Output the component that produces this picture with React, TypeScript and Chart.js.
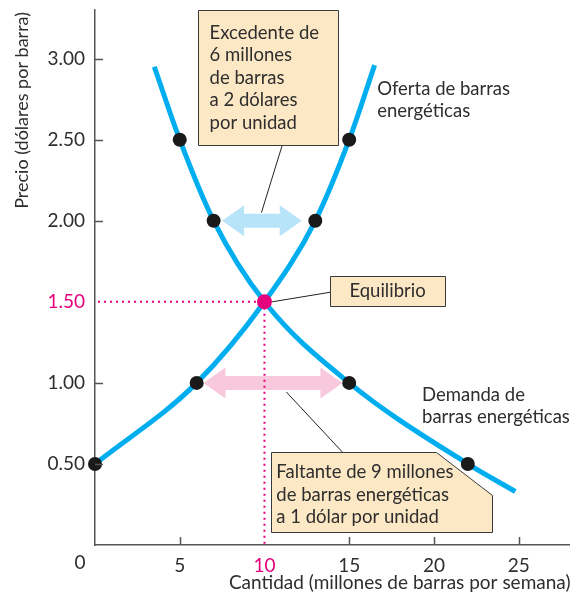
import React, { useEffect, useRef } from "react";
import { Chart, registerables } from "chart.js";

Chart.register(...registerables);

// ---- data ----
const supplyQty = [0, 6, 10, 13, 15, 16.5];
const supplyPrice = [0.5, 1.0, 1.5, 2.0, 2.5, 2.96];
const supplyMarked = [true, true, false, true, true, false];

const demandQty = [3.5, 5, 7, 10, 15, 22, 24.8];
const demandPrice = [2.95, 2.5, 2.0, 1.5, 1.0, 0.5, 0.33];
const demandMarked = [false, true, true, false, true, true, false];

const equilibriumQty = 10;
const equilibriumPrice = 1.5;

const arrowPrices = [2.0, 1.0];
const arrowFromQty = [7.5, 6.4];
const arrowToQty = [12.2, 14.6];

const xTickValues = [5, 10, 15, 20, 25];
const yTickValues = [0.5, 1.0, 1.5, 2.0, 2.5, 3.0];
const yTickLabels = ["0.50", "1.00", "1.50", "2.00", "2.50", "3.00"];

const surplusText = ["Excedente de", "6 millones", "de barras", "a 2 dólares", "por unidad"];
const shortageText = ["Faltante de 9 millones", "de barras energéticas", "a 1 dólar por unidad"];
const equilibriumText = "Equilibrio";
const supplyLabel = ["Oferta de barras", "energéticas"];
const demandLabel = ["Demanda de", "barras energéticas"];
const xTitle = "Cantidad (millones de barras por semana)";
const yTitle = "Precio (dólares por barra)";

// ---- styles ----
const FONT = "Lato";
const TEXT = "#2e2e2e";
const PINK = "#e6007e";
const CURVE = "#00aeef";
const AXIS = "#555555";
const BOX_FILL = "#fde8c5";
const BOX_STROKE = "#3a3a3a";

function drawArrow(ctx: CanvasRenderingContext2D, x1: number, x2: number, y: number, shaft: number, head: number, headLen: number, color: string) {
  ctx.save();
  ctx.fillStyle = color;
  ctx.beginPath();
  ctx.moveTo(x1, y);
  ctx.lineTo(x1 + headLen, y - head / 2);
  ctx.lineTo(x1 + headLen, y - shaft / 2);
  ctx.lineTo(x2 - headLen, y - shaft / 2);
  ctx.lineTo(x2 - headLen, y - head / 2);
  ctx.lineTo(x2, y);
  ctx.lineTo(x2 - headLen, y + head / 2);
  ctx.lineTo(x2 - headLen, y + shaft / 2);
  ctx.lineTo(x1 + headLen, y + shaft / 2);
  ctx.lineTo(x1 + headLen, y + head / 2);
  ctx.closePath();
  ctx.fill();
  ctx.restore();
}

const overlayPlugin = {
  id: "overlay",
  beforeDatasetsDraw(chart: any) {
    const { ctx, scales } = chart;
    const xs = scales.x, ys = scales.y;
    const arrowColors = ["#b8e4f9", "#f8c9dc"];
    arrowPrices.forEach((p, i) => {
      drawArrow(ctx, xs.getPixelForValue(arrowFromQty[i]), xs.getPixelForValue(arrowToQty[i]), ys.getPixelForValue(p), 14, 31, 22, arrowColors[i]);
    });
    // dotted equilibrium guides
    const ex = xs.getPixelForValue(equilibriumQty);
    const ey = ys.getPixelForValue(equilibriumPrice);
    ctx.save();
    ctx.strokeStyle = PINK;
    ctx.lineWidth = 2;
    ctx.setLineDash([2, 4]);
    ctx.beginPath();
    ctx.moveTo(xs.getPixelForValue(0) + 3, ey);
    ctx.lineTo(ex, ey);
    ctx.moveTo(ex, ey);
    ctx.lineTo(ex, ys.getPixelForValue(0));
    ctx.stroke();
    ctx.restore();
  },
  afterDatasetsDraw(chart: any) {
    const { ctx, scales } = chart;
    const xs = scales.x, ys = scales.y;
    const X = (v: number) => xs.getPixelForValue(v);
    const Y = (v: number) => ys.getPixelForValue(v);
    ctx.save();
    // leader lines
    ctx.strokeStyle = "#222";
    ctx.lineWidth = 1;
    const leader = (a: number[], b: number[]) => {
      ctx.beginPath();
      ctx.moveTo(X(a[0]), Y(a[1]));
      ctx.lineTo(X(b[0]), Y(b[1]));
      ctx.stroke();
    };
    leader([11.06, 2.47], [9.82, 2.05]);
    leader([13.94, 1.56], [10.45, 1.5]);
    leader([14.59, 0.574], [11.29, 0.944]);

    // boxes
    ctx.fillStyle = BOX_FILL;
    ctx.strokeStyle = BOX_STROKE;
    ctx.lineWidth = 1;
    const box = (pts: number[][]) => {
      ctx.beginPath();
      pts.forEach((p, i) => (i ? ctx.lineTo(Math.round(X(p[0])) + 0.5, Math.round(Y(p[1])) + 0.5) : ctx.moveTo(Math.round(X(p[0])) + 0.5, Math.round(Y(p[1])) + 0.5)));
      ctx.closePath();
      ctx.fill();
      ctx.stroke();
    };
    box([[6.06, 3.3], [14.35, 3.3], [14.35, 2.47], [6.06, 2.47]]);
    box([[13.88, 1.66], [20.65, 1.66], [20.65, 1.475], [13.88, 1.475]]);
    box([[10.41, 0.574], [20.12, 0.574], [23.41, 0.309], [23.41, 0.08], [10.41, 0.08]]);

    ctx.fillStyle = TEXT;
    ctx.font = `18.5px ${FONT}`;
    ctx.textBaseline = "middle";
    ctx.textAlign = "left";
    const lines = (arr: string[], x: number, y: number, lh: number) => {
      arr.forEach((t, i) => ctx.fillText(t, X(x), Y(y) + i * lh));
    };
    lines(surplusText, 6.76, 3.16, 22.5);
    lines(shortageText, 10.7, 0.45, 22.5);
    ctx.textAlign = "center";
    ctx.fillText(equilibriumText, (X(13.88) + X(20.65)) / 2, (Y(1.66) + Y(1.475)) / 2);
    ctx.textAlign = "left";
    lines(supplyLabel, 16.65, 2.815, 22.5);
    lines(demandLabel, 19.3, 0.926, 22.5);
    ctx.restore();
  },
  afterDraw(chart: any) {
    const { ctx, scales } = chart;
    const xs = scales.x, ys = scales.y;
    const x0 = xs.getPixelForValue(0), y0 = ys.getPixelForValue(0);
    ctx.save();
    ctx.strokeStyle = AXIS;
    ctx.lineWidth = 1.5;
    ctx.beginPath();
    yTickValues.forEach((v) => {
      if (v === equilibriumPrice) return;
      const y = Math.round(ys.getPixelForValue(v)) + 0.5;
      ctx.moveTo(x0, y);
      ctx.lineTo(x0 + 8, y);
    });
    xTickValues.forEach((v) => {
      if (v === equilibriumQty) return;
      const x = Math.round(xs.getPixelForValue(v)) + 0.5;
      ctx.moveTo(x, y0);
      ctx.lineTo(x, y0 - 8);
    });
    ctx.stroke();
    ctx.fillStyle = TEXT;
    ctx.font = `19px ${FONT}`;
    ctx.textAlign = "center";
    ctx.textBaseline = "middle";
    ctx.fillText("0", x0 - 15, y0 + 18);
    // titles
    ctx.font = `19px ${FONT}`;
    ctx.textAlign = "right";
    ctx.fillText(xTitle, xs.right + 1, y0 + 38);
    ctx.font = `18px ${FONT}`;
    ctx.translate(22, ys.top + 2);
    ctx.rotate(-Math.PI / 2);
    ctx.fillText(yTitle, 0, 0);
    ctx.restore();
  },
};

export default function App() {
  const ref = useRef<HTMLCanvasElement>(null);
  useEffect(() => {
    if (!ref.current) return;
    const chart = new Chart(ref.current, {
      type: "line",
      data: {
        datasets: [
          {
            data: [{ x: equilibriumQty, y: equilibriumPrice }],
            showLine: false,
            pointRadius: 7.5,
            pointBackgroundColor: PINK,
            pointBorderWidth: 0,
            clip: false,
          } as any,
          {
            data: supplyQty.map((q, i) => ({ x: q, y: supplyPrice[i] })),
            borderColor: CURVE,
            borderWidth: 5,
            cubicInterpolationMode: "monotone",
            pointRadius: supplyMarked.map((m) => (m ? 7 : 0)),
            pointBackgroundColor: "#1a1a1a",
            pointBorderWidth: 0,
            clip: false,
          } as any,
          {
            data: demandQty.map((q, i) => ({ x: q, y: demandPrice[i] })),
            borderColor: CURVE,
            borderWidth: 5,
            cubicInterpolationMode: "monotone",
            pointRadius: demandMarked.map((m) => (m ? 7 : 0)),
            pointBackgroundColor: "#1a1a1a",
            pointBorderWidth: 0,
            clip: false,
          } as any,
        ],
      },
      options: {
        animation: false,
        responsive: true,
        maintainAspectRatio: false,
        layout: { padding: { top: 10, right: 6, left: 0, bottom: 0 } },
        plugins: { legend: { display: false }, tooltip: { enabled: false } },
        scales: {
          x: {
            type: "linear",
            min: 0,
            max: 28,
            grid: { display: false, drawTicks: false },
            border: { display: true, color: AXIS, width: 1.5 },
            afterBuildTicks: (s: any) => {
              s.ticks = xTickValues.map((v) => ({ value: v }));
            },
            afterFit: (s: any) => {
              s.height = 52;
              s.paddingLeft = 0;
              s.paddingRight = 0;
            },
            ticks: {
              padding: 9,
              font: { family: FONT, size: 19 },
              color: (c: any) => (c.tick && c.tick.value === equilibriumQty ? PINK : TEXT),
              callback: (v: any) => String(v),
            },
          },
          y: {
            type: "linear",
            min: 0,
            max: 3.3,
            grid: { display: false, drawTicks: false },
            border: { display: true, color: AXIS, width: 1.5 },
            afterBuildTicks: (s: any) => {
              s.ticks = yTickValues.map((v) => ({ value: v }));
            },
            afterFit: (s: any) => {
              s.width = 95;
              s.paddingTop = 0;
              s.paddingBottom = 0;
            },
            ticks: {
              padding: 10,
              font: { family: FONT, size: 19 },
              color: (c: any) => (c.tick && c.tick.value === equilibriumPrice ? PINK : TEXT),
              callback: (v: any) => {
                const i = yTickValues.indexOf(Number(v));
                return i >= 0 ? yTickLabels[i] : "";
              },
            },
          },
        },
      },
      plugins: [overlayPlugin],
    });
    return () => chart.destroy();
  }, []);
  return (
    <div style={{ position: "absolute", left: 0, top: 0, width: 577, height: 597 }}>
      <canvas ref={ref} />
    </div>
  );
}
